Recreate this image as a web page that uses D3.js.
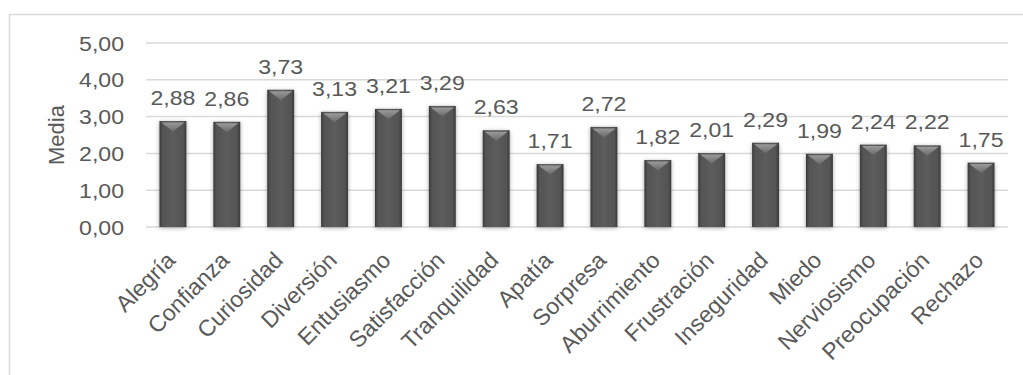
<!DOCTYPE html>
<html><head><meta charset="utf-8">
<script src="https://cdn.jsdelivr.net/npm/d3@7"></script>
<style>body{margin:0;background:#fff}svg{display:block}text{font-family:"Liberation Sans",Arial,sans-serif;fill:#595959}</style>
</head><body>
<svg id="c" width="1023" height="375"></svg>
<script>
const categories = ["Alegría","Confianza","Curiosidad","Diversión","Entusiasmo","Satisfacción","Tranquilidad","Apatía","Sorpresa","Aburrimiento","Frustración","Inseguridad","Miedo","Nerviosismo","Preocupación","Rechazo"];
const values = [2.88,2.86,3.73,3.13,3.21,3.29,2.63,1.71,2.72,1.82,2.01,2.29,1.99,2.24,2.22,1.75];
const yTicks = [0,1,2,3,4,5];
const yTitle = "Media";

const fmt = v => v.toFixed(2).replace(".", ",");
const SX = 1.1; // horizontal stretch of text
const svg = d3.select("#c");
const m = {left:146, right:1008, top:43, bottom:227};
const x = d3.scaleBand().domain(categories).range([m.left, m.right]).paddingInner(0.5).paddingOuter(0.25);
const y = d3.scaleLinear().domain([0,5]).range([m.bottom, m.top]);

const defs = svg.append("defs");
const g1 = defs.append("linearGradient").attr("id","bar").attr("x1","0").attr("x2","1").attr("y1","0").attr("y2","0");
g1.append("stop").attr("offset","0").attr("stop-color","#3a3a3a");
g1.append("stop").attr("offset","0.12").attr("stop-color","#545454");
g1.append("stop").attr("offset","0.5").attr("stop-color","#5c5c5c");
g1.append("stop").attr("offset","0.88").attr("stop-color","#545454");
g1.append("stop").attr("offset","1").attr("stop-color","#3a3a3a");
const g2 = defs.append("linearGradient").attr("id","bev").attr("x1","0").attr("x2","0").attr("y1","0").attr("y2","1");
g2.append("stop").attr("offset","0").attr("stop-color","#9a9a9a");
g2.append("stop").attr("offset","1").attr("stop-color","#6a6a6a");
const f = defs.append("filter").attr("id","sh").attr("x","-30%").attr("y","-10%").attr("width","160%").attr("height","130%");
f.append("feDropShadow").attr("dx",0).attr("dy",1).attr("stdDeviation",2).attr("flood-color","#000").attr("flood-opacity",0.35);

// chart border
svg.append("rect").attr("x",9.5).attr("y",14.5).attr("width",1040).attr("height",400)
  .attr("fill","none").attr("stroke","#d9d9d9").attr("stroke-width",1.5);

// gridlines
svg.append("g").selectAll("line").data(yTicks).join("line")
  .attr("x1",m.left).attr("x2",m.right).attr("y1",d=>y(d)).attr("y2",d=>y(d))
  .attr("stroke","#d9d9d9").attr("stroke-width",1.5);

// y tick labels
svg.append("g").selectAll("text").data(yTicks).join("text")
  .attr("transform",d=>`translate(124,${y(d)}) scale(${SX},1)`)
  .attr("dy","0.36em").attr("text-anchor","end").attr("font-size",21).text(fmt);

svg.append("text").attr("transform",`translate(64,135) rotate(-90)`)
  .attr("text-anchor","middle").attr("font-size",22).text(yTitle);

// bars
const bars = svg.append("g").selectAll("g").data(categories).join("g").attr("filter","url(#sh)");
bars.append("rect").attr("x",d=>x(d)).attr("width",x.bandwidth())
  .attr("y",(d,i)=>y(values[i])).attr("height",(d,i)=>y(0)-y(values[i]))
  .attr("fill","url(#bar)");
bars.append("path").attr("d",(d,i)=>{
  const x0=x(d)+2, x1=x(d)+x.bandwidth()-2, yt=y(values[i])+1.5, xc=x(d)+x.bandwidth()/2;
  return `M${x0},${yt}L${x1},${yt}L${xc},${yt+9}Z`;
}).attr("fill","url(#bev)");

// data labels
svg.append("g").selectAll("text").data(categories).join("text")
  .attr("transform",(d,i)=>`translate(${x(d)+x.bandwidth()/2},${y(values[i])-16}) scale(${SX},1)`)
  .attr("text-anchor","middle").attr("font-size",21).attr("fill","#404040")
  .text((d,i)=>fmt(values[i]));

// category labels
svg.append("g").selectAll("text").data(categories).join("text")
  .attr("transform",d=>`translate(${x(d)+x.bandwidth()/2-2},${m.bottom+29}) rotate(-45)`)
  .attr("text-anchor","end").attr("dy","0.35em").attr("font-size",23).text(d=>d);
</script>
</body></html>
